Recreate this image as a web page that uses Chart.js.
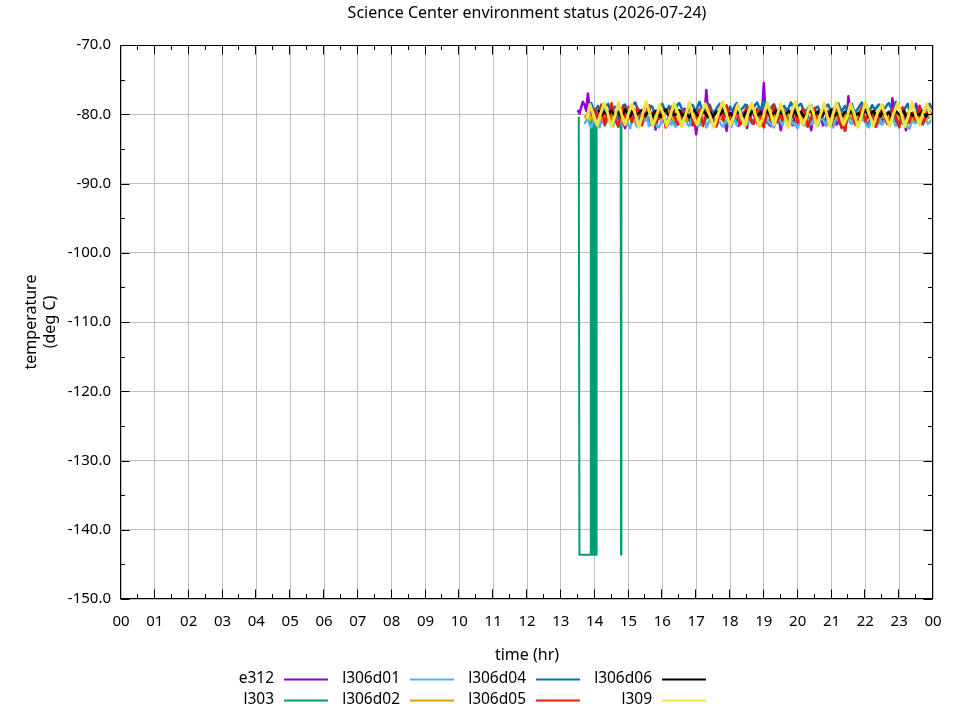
<!DOCTYPE html>
<html>
<head>
<meta charset="utf-8">
<title>Science Center environment status</title>
<script src="https://cdn.jsdelivr.net/npm/chart.js@4.4.1/dist/chart.umd.min.js"></script>
<style>
  body { margin: 0; background: #fff; }
  canvas { display: block; }
</style>
</head>
<body>
<canvas id="myChart" width="960" height="720"></canvas>
<script>
// sample times (hr) shared by most sensors, one row per hour
const hours = [
  13.5,13.55,13.6,13.65,13.7,13.75,13.8,13.85,13.9,13.95,14.0,14.05,14.1,14.15,14.2,14.25,14.3,14.35,14.4,14.45,
  14.5,14.55,14.6,14.65,14.7,14.75,14.8,14.85,14.9,14.95,15.0,15.05,15.1,15.15,15.2,15.25,15.3,15.35,15.4,15.45,
  15.5,15.55,15.6,15.65,15.7,15.75,15.8,15.85,15.9,15.95,16.0,16.05,16.1,16.15,16.2,16.25,16.3,16.35,16.4,16.45,
  16.5,16.55,16.6,16.65,16.7,16.75,16.8,16.85,16.9,16.95,17.0,17.05,17.1,17.15,17.2,17.25,17.3,17.35,17.4,17.45,
  17.5,17.55,17.6,17.65,17.7,17.75,17.8,17.85,17.9,17.95,18.0,18.05,18.1,18.15,18.2,18.25,18.3,18.35,18.4,18.45,
  18.5,18.55,18.6,18.65,18.7,18.75,18.8,18.85,18.9,18.95,19.0,19.05,19.1,19.15,19.2,19.25,19.3,19.35,19.4,19.45,
  19.5,19.55,19.6,19.65,19.7,19.75,19.8,19.85,19.9,19.95,20.0,20.05,20.1,20.15,20.2,20.25,20.3,20.35,20.4,20.45,
  20.5,20.55,20.6,20.65,20.7,20.75,20.8,20.85,20.9,20.95,21.0,21.05,21.1,21.15,21.2,21.25,21.3,21.35,21.4,21.45,
  21.5,21.55,21.6,21.65,21.7,21.75,21.8,21.85,21.9,21.95,22.0,22.05,22.1,22.15,22.2,22.25,22.3,22.35,22.4,22.45,
  22.5,22.55,22.6,22.65,22.7,22.75,22.8,22.85,22.9,22.95,23.0,23.05,23.1,23.15,23.2,23.25,23.3,23.35,23.4,23.45,
  23.5,23.55,23.6,23.65,23.7,23.75,23.8,23.85,23.9,23.95,24.0
];

const e312 = [
  -79.4,-79.9,-79.0,-78.2,-78.6,-79.5,-77.0,-79.1,-79.8,-80.9,-80.6,-79.7,-79.9,-80.8,-81.2,-80.2,-80.4,-79.5,-79.6,-81.0,
  -80.8,-80.1,-79.7,-80.6,-81.1,-79.9,-80.2,-81.3,-82.0,-80.7,-80.5,-79.4,-79.6,-80.5,-80.9,-81.6,-81.4,-80.3,-80.1,-79.6,
  -79.8,-80.9,-80.7,-81.5,-81.3,-80.6,-82.2,-80.8,-80.4,-79.7,-79.5,-80.4,-80.8,-81.7,-81.0,-80.2,-79.9,-80.8,-80.6,-81.3,
  -81.2,-80.4,-80.0,-79.2,-79.4,-80.5,-80.9,-81.4,-81.6,-80.7,-82.9,-81.0,-80.3,-79.6,-79.2,-79.9,-76.5,-79.5,-80.4,-81.1,
  -80.7,-81.2,-81.5,-80.4,-79.8,-80.6,-80.2,-81.3,-82.4,-80.8,-80.9,-79.9,-79.6,-80.5,-81.1,-81.7,-80.3,-80.0,-79.7,-80.9,
  -82.0,-80.9,-80.6,-79.8,-79.9,-80.7,-81.3,-80.4,-80.5,-79.6,-75.5,-79.9,-80.8,-81.4,-81.7,-80.6,-80.1,-79.5,-79.4,-80.8,
  -82.3,-81.0,-80.4,-79.6,-79.7,-80.8,-81.0,-81.6,-80.6,-79.9,-79.3,-80.3,-80.9,-81.2,-81.5,-80.5,-80.2,-81.1,-82.3,-80.7,
  -80.5,-80.0,-79.6,-80.9,-80.8,-81.6,-81.4,-80.3,-80.0,-79.4,-79.5,-80.6,-80.7,-81.5,-81.2,-80.1,-79.9,-80.8,-82.4,-80.6,
  -77.4,-79.8,-80.6,-81.1,-81.3,-80.2,-80.1,-79.5,-79.4,-80.7,-80.8,-81.5,-81.6,-80.4,-80.3,-79.7,-79.8,-80.6,-80.9,-81.3,
  -81.2,-80.5,-80.4,-79.8,-79.6,-80.3,-77.7,-79.7,-80.9,-81.4,-81.5,-80.6,-80.2,-81.0,-82.3,-80.9,-80.6,-79.9,-79.8,-80.7,
  -78.5,-79.9,-80.7,-81.4,-81.3,-80.5,-80.0,-79.6,-79.5,-80.4,-80.6
];

// l303 has its own times because of the drop-outs
const l303DipHours = [
  13.53,13.55,13.88,13.885,13.9,13.92,13.925,13.94,13.96,13.965,
  13.98,14.0,14.005,14.02,14.04,14.045,14.06,14.065,14.1,14.2,
  14.3,14.4,14.5,14.6,14.7,14.77,14.78,14.79
];
const l303DipValues = [
  -80.4,-143.6,-143.6,-80.6,-143.6,-143.6,-80.3,-143.6,-143.6,-80.5,
  -143.6,-143.6,-80.2,-143.6,-143.6,-80.7,-143.6,-80.4,-80.6,-81.0,
  -80.4,-80.8,-81.2,-80.5,-80.9,-80.6,-143.6,-80.4
];
// every 0.1 hr from 14.9 on
const l303TailValues = [
  -81.1,-80.7,-80.3,-81.0,-80.6,-81.3,-80.8,-80.4,-81.1,-80.7,-80.2,
  -80.9,-81.2,-80.5,-80.8,-81.4,-80.6,-80.3,-81.0,-80.7,-81.2,
  -80.4,-80.9,-81.3,-80.6,-80.2,-80.8,-81.1,-80.5,-80.9,-81.4,
  -80.7,-80.3,-81.0,-80.6,-81.2,-80.8,-80.4,-81.1,-80.7,-80.2,
  -80.9,-81.3,-80.5,-80.8,-81.2,-80.6,-80.3,-81.0,-80.7,-81.4,
  -80.5,-80.9,-81.1,-80.4,-80.8,-81.2,-80.6,-80.2,-80.9,-81.3,
  -80.7,-80.4,-81.0,-80.6,-81.2,-80.8,-80.3,-81.1,-80.7,-80.5,
  -81.0,-81.3,-80.6,-80.9,-81.2,-80.4,-80.8,-81.1,-80.7,-80.3,
  -80.9,-81.4,-80.6,-80.8,-81.1,-80.5,-80.9,-81.2,-80.7,-80.4,-80.8
];

const l306d01 = [
  null,null,null,null,-81.4,-80.9,-80.6,-81.5,-81.9,-81.1,-80.8,-80.2,-81.5,-81.9,-80.3,-80.9,-81.7,-81.2,-80.9,-80.4,
  -81.2,-81.7,-80.5,-80.9,-81.8,-81.3,-81.0,-80.5,-80.4,-81.2,-81.6,-82.0,-80.8,-80.3,-81.3,-81.8,-80.2,-80.8,-81.5,-81.0,
  -80.9,-80.4,-81.7,-81.2,-80.6,-81.0,-81.2,-81.8,-81.9,-81.3,-80.7,-80.3,-81.4,-80.9,-80.5,-81.5,-81.1,-81.6,-81.8,-80.8,
  -80.6,-81.1,-81.3,-80.7,-80.9,-81.5,-81.7,-81.0,-80.4,-80.8,-81.0,-81.7,-81.6,-81.1,-80.8,-80.3,-81.9,-81.4,-80.7,-81.2,
  -81.4,-80.9,-80.6,-81.3,-81.1,-81.6,-81.8,-81.2,-80.9,-80.4,-81.3,-81.8,-80.5,-81.0,-81.6,-81.1,-81.0,-80.6,-80.7,-81.4,
  -81.5,-81.0,-80.8,-81.4,-81.2,-80.7,-80.4,-81.1,-81.7,-81.3,-81.0,-80.5,-80.6,-81.2,-81.4,-81.8,-81.9,-81.2,-80.9,-80.5,
  -81.1,-81.6,-80.5,-80.9,-81.6,-81.1,-80.8,-81.4,-81.3,-81.7,-82.0,-81.2,-80.7,-80.4,-81.2,-81.7,-80.6,-81.0,-81.5,-80.9,
  -80.9,-81.3,-81.7,-81.0,-80.4,-80.8,-81.2,-81.7,-80.8,-80.5,-81.5,-81.9,-81.0,-80.6,-80.6,-81.2,-81.8,-81.3,-81.1,-80.7,
  -80.7,-81.2,-81.4,-80.8,-80.9,-81.5,-81.6,-81.0,-80.5,-80.9,-81.2,-81.7,-81.9,-81.3,-80.8,-80.4,-81.3,-81.8,-80.6,-81.1,
  -81.5,-81.0,-80.9,-81.4,-81.2,-80.7,-80.5,-81.1,-81.7,-81.3,-81.0,-80.6,-80.7,-81.2,-81.4,-81.9,-82.1,-81.4,-80.8,-81.2,
  -81.3,-80.8,-80.6,-81.2,-81.5,-81.0,-80.9,-81.4,-81.2,-80.7,-80.8
];

const l306d02 = [
  null,null,null,null,-80.2,-80.6,-79.6,-80.0,-80.8,-80.3,-80.1,-79.7,-79.4,-80.2,-80.7,-80.9,-80.3,-79.8,-79.9,-80.5,
  -80.6,-80.2,-80.0,-79.6,-79.5,-80.3,-80.9,-80.5,-80.2,-79.8,-79.7,-80.4,-80.5,-80.8,-81.0,-80.4,-80.1,-79.6,-79.8,-80.3,
  -80.4,-79.9,-79.6,-80.1,-80.8,-80.5,-80.2,-79.7,-79.9,-80.4,-80.7,-80.2,-80.0,-79.6,-79.5,-80.2,-80.6,-80.9,-80.3,-79.8,
  -79.8,-80.2,-80.5,-80.8,-80.9,-80.4,-80.1,-79.7,-79.6,-80.0,-80.4,-80.7,-80.8,-80.3,-79.9,-79.5,-80.2,-80.6,-80.6,-80.1,
  -80.0,-79.7,-79.5,-80.1,-80.7,-80.4,-80.3,-79.9,-79.8,-80.5,-80.9,-80.3,-80.2,-79.8,-79.7,-80.2,-80.5,-80.8,-80.1,-79.6,
  -80.8,-80.4,-80.2,-79.8,-79.6,-80.1,-80.4,-80.7,-80.9,-80.5,-80.0,-79.6,-79.7,-80.3,-80.6,-80.9,-80.3,-80.0,-79.9,-80.4,
  -80.5,-80.8,-80.1,-79.7,-79.8,-80.3,-80.7,-80.4,-80.2,-79.8,-79.6,-80.1,-80.4,-80.7,-80.9,-80.3,-80.0,-79.6,-79.7,-80.2,
  -80.3,-80.6,-80.8,-80.2,-80.1,-79.8,-79.5,-80.0,-80.6,-80.9,-80.2,-79.7,-79.9,-80.4,-80.7,-80.3,-80.4,-80.8,-80.0,-79.6,
  -79.7,-80.1,-80.5,-80.8,-80.9,-80.4,-80.2,-79.9,-79.8,-80.3,-80.4,-80.7,-80.0,-79.6,-79.6,-80.2,-80.8,-80.5,-80.3,-79.9,
  -80.1,-80.5,-79.8,-80.2,-80.6,-80.9,-80.3,-79.9,-79.5,-80.1,-80.7,-80.4,-80.2,-79.7,-79.9,-80.3,-80.5,-80.8,-80.8,-80.2,
  -80.0,-80.4,-79.6,-80.0,-80.4,-80.8,-80.7,-80.2,-80.1,-79.7,-79.8
];

const l306d04 = [
  null,null,null,null,null,null,-79.0,-78.6,-78.4,-79.1,-79.6,-79.2,-78.8,-79.5,-80.2,-79.4,-79.1,-78.7,-78.5,-79.3,
  -79.7,-79.1,-78.9,-79.6,-80.3,-79.5,-79.2,-78.7,-78.6,-79.3,-79.8,-79.2,-79.0,-78.5,-78.3,-79.0,-79.5,-79.9,-80.1,-79.3,
  -78.7,-79.2,-79.4,-78.8,-78.9,-79.6,-80.0,-79.4,-79.3,-78.9,-78.5,-79.1,-79.7,-79.3,-78.8,-79.4,-79.9,-79.5,-79.2,-78.6,
  -78.4,-78.9,-79.6,-79.9,-80.2,-79.5,-79.0,-78.6,-78.7,-79.2,-79.5,-78.8,-78.2,-79.0,-79.8,-79.4,-79.1,-78.7,-78.6,-79.3,
  -79.9,-79.5,-79.2,-78.8,-78.5,-79.1,-79.7,-80.0,-80.4,-79.6,-78.9,-79.4,-79.3,-78.7,-78.4,-79.0,-79.6,-79.2,-79.0,-78.6,
  -78.7,-79.3,-79.8,-79.4,-79.1,-78.6,-78.3,-78.9,-79.5,-78.7,-78.1,-79.0,-79.9,-79.5,-79.2,-78.8,-78.6,-79.2,-79.7,-79.3,
  -80.1,-79.4,-78.8,-79.2,-79.4,-78.9,-78.3,-78.8,-79.6,-79.9,-79.0,-78.6,-78.5,-79.1,-79.8,-79.4,-79.2,-78.8,-78.7,-79.5,
  -79.5,-79.0,-78.9,-79.6,-80.2,-79.7,-79.3,-78.8,-78.6,-79.2,-79.7,-79.3,-79.0,-78.5,-78.4,-79.1,-79.6,-79.2,-78.8,-79.4,
  -79.2,-78.8,-78.5,-79.3,-79.8,-79.4,-79.1,-78.6,-78.3,-78.9,-79.4,-79.8,-80.0,-79.2,-78.7,-79.1,-79.3,-78.9,-78.6,-79.2,
  -79.7,-79.3,-79.0,-78.6,-78.4,-79.0,-79.6,-79.2,-78.2,-78.8,-79.1,-79.6,-79.8,-79.3,-78.9,-78.5,-79.4,-79.0,-78.6,-79.1,
  -79.5,-79.1,-78.8,-79.4,-79.9,-79.5,-79.2,-78.7,-78.5,-79.0,-79.3
];

const l306d05 = [
  null,null,null,null,null,null,null,null,null,null,-79.2,-80.1,-80.8,-79.4,-78.6,-80.3,-81.5,-80.6,-79.9,-81.0,
  -78.4,-79.6,-80.6,-81.3,-81.8,-80.5,-79.5,-78.8,-80.2,-81.1,-78.9,-79.8,-81.2,-80.4,-80.0,-79.1,-79.3,-80.7,-81.6,-80.2,
  -80.4,-79.5,-78.7,-79.9,-79.8,-81.0,-81.3,-80.2,-80.7,-79.3,-79.1,-80.6,-81.9,-81.2,-80.3,-79.4,-78.8,-80.1,-80.9,-81.5,
  -81.4,-80.5,-79.6,-80.8,-80.2,-79.2,-78.5,-79.7,-81.1,-81.6,-80.6,-79.8,-79.3,-80.4,-81.7,-80.9,-80.0,-79.4,-78.9,-80.3,
  -80.5,-81.2,-81.8,-80.6,-79.4,-78.9,-80.9,-80.0,-78.7,-79.8,-81.2,-80.7,-80.1,-79.3,-79.7,-80.8,-81.5,-81.0,-80.3,-79.5,
  -78.9,-79.8,-80.7,-81.2,-81.4,-80.3,-79.2,-79.9,-80.4,-81.3,-81.9,-80.6,-79.6,-79.0,-80.8,-80.1,-78.6,-79.7,-81.1,-80.4,
  -80.2,-80.9,-79.5,-80.4,-81.7,-81.0,-80.6,-79.3,-78.8,-80.0,-81.3,-80.5,-80.0,-79.2,-79.4,-80.7,-81.8,-81.1,-80.5,-79.6,
  -79.1,-80.3,-81.2,-80.6,-80.3,-79.4,-78.6,-79.7,-80.9,-81.4,-81.6,-80.5,-79.7,-79.1,-80.4,-81.3,-82.0,-81.1,-82.4,-80.8,
  -80.1,-79.6,-79.3,-80.5,-81.5,-81.0,-80.7,-79.8,-78.9,-79.9,-81.0,-80.4,-80.2,-79.5,-79.6,-80.8,-81.8,-81.2,-80.4,-79.7,
  -78.7,-79.6,-80.8,-81.4,-81.3,-80.2,-79.4,-79.0,-80.5,-81.1,-81.9,-80.7,-79.0,-79.8,-80.6,-81.2,-81.2,-80.3,-79.8,-80.6,
  -80.9,-79.9,-78.8,-80.2,-81.4,-80.8,-80.3,-79.5,-79.6,-80.5,-81.1
];

const l306d06 = [
  null,null,null,null,null,null,null,null,null,null,null,null,-79.4,-79.8,-80.1,-79.9,-79.6,-80.0,-80.3,-79.7,
  -79.5,-79.9,-80.2,-79.8,-79.7,-80.1,-80.4,-79.9,-79.3,-79.7,-80.0,-80.3,-79.6,-79.9,-80.3,-80.0,-79.8,-79.5,-79.4,-79.8,
  -80.2,-79.9,-79.7,-80.1,-80.4,-79.8,-79.5,-79.8,-80.1,-80.4,-79.8,-79.5,-79.3,-79.9,-80.3,-79.9,-79.6,-80.1,-80.0,-79.7,
  -79.4,-79.8,-80.2,-80.0,-79.7,-80.1,-80.5,-80.0,-79.6,-79.4,-79.9,-80.2,-80.3,-79.8,-79.5,-79.7,-80.1,-80.4,-79.7,-79.9,
  -80.4,-80.0,-79.6,-79.9,-80.0,-79.7,-79.3,-79.8,-80.2,-80.4,-79.8,-80.1,-80.5,-79.9,-79.5,-79.8,-79.9,-80.2,-80.3,-79.8,
  -79.6,-79.9,-80.1,-79.7,-79.4,-79.8,-80.3,-80.0,-79.7,-80.1,-80.0,-79.6,-79.5,-79.9,-80.4,-80.1,-79.8,-79.5,-80.2,-79.9,
  -79.5,-79.9,-80.3,-80.0,-79.7,-79.5,-80.0,-80.3,-79.4,-79.8,-80.2,-79.9,-79.6,-80.1,-80.5,-80.0,-79.8,-79.6,-79.5,-80.0,
  -80.1,-79.8,-79.6,-80.0,-80.4,-80.1,-79.7,-79.5,-80.0,-80.3,-79.3,-79.7,-80.2,-79.9,-79.8,-80.2,-80.5,-80.0,-79.6,-79.9,
  -80.0,-79.7,-79.5,-79.9,-80.3,-80.0,-79.8,-80.2,-80.1,-79.7,-79.4,-79.8,-80.4,-80.1,-79.7,-79.5,-80.2,-80.0,-79.9,-80.3,
  -79.6,-80.0,-80.3,-79.9,-79.8,-80.2,-80.5,-80.0,-79.5,-79.8,-80.0,-80.3,-79.7,-79.5,-80.4,-80.0,-79.6,-79.9,-80.2,-79.8,
  -79.8,-80.1,-80.1,-79.7,-79.5,-79.9,-80.3,-80.0,-79.7,-80.2,-80.0
];

// l309 swings slowly, read at its turning points
const l309Hours = [
  13.78,13.86,13.97,14.07,14.17,14.28,14.38,14.49,14.60,14.70,
  14.80,14.90,15.00,15.10,15.21,15.31,15.42,15.52,15.62,15.72,
  15.82,15.92,16.03,16.13,16.24,16.35,16.46,16.57,16.68,16.80,
  16.91,17.03,17.15,17.27,17.40,17.52,17.65,17.78,17.89,18.00,
  18.12,18.23,18.33,18.44,18.54,18.64,18.75,18.87,18.98,19.10,
  19.20,19.30,19.40,19.50,19.61,19.72,19.82,19.93,20.04,20.15,
  20.26,20.37,20.47,20.57,20.67,20.78,20.87,20.96,21.06,21.15,
  21.25,21.36,21.46,21.56,21.67,21.78,21.89,22.00,22.12,22.24,
  22.36,22.48,22.60,22.72,22.83,22.95,23.06,23.17,23.27,23.38,
  23.49,23.60,23.71,23.82,23.91,24.00
];
const l309 = [
  -80.7,-78.6,-80.2,-81.6,-80.0,-78.4,-79.8,-81.8,-80.3,-78.3,
  -80.1,-81.5,-79.9,-78.5,-80.2,-81.9,-80.0,-78.2,-79.7,-81.6,
  -80.4,-78.6,-80.0,-81.7,-80.1,-78.4,-79.8,-81.8,-80.2,-78.3,
  -80.3,-81.5,-79.8,-78.5,-80.1,-81.9,-80.0,-78.2,-79.9,-81.6,
  -80.3,-78.6,-80.2,-81.7,-79.7,-78.4,-80.0,-81.8,-80.4,-78.3,
  -79.9,-81.5,-80.1,-78.5,-80.2,-81.9,-79.8,-78.2,-80.0,-81.6,
  -80.3,-78.6,-79.9,-81.7,-80.1,-78.4,-80.2,-81.8,-79.7,-78.3,
  -80.0,-81.5,-80.4,-78.5,-79.9,-81.9,-80.2,-78.2,-80.1,-81.6,
  -79.8,-78.6,-80.3,-81.7,-80.0,-78.4,-79.9,-81.8,-80.2,-78.3,
  -80.1,-81.5,-79.8,-78.5,-80.0,-81.2
];

const seriesNames = ['e312','l303','l306d01','l306d02','l306d04','l306d05','l306d06','l309'];
const seriesColors = ['#9400d3','#009e73','#56b4e9','#e69f00','#0072b2','#e51e10','#000000','#f0e442'];

const hourLabels = ['00','01','02','03','04','05','06','07','08','09','10','11',
  '12','13','14','15','16','17','18','19','20','21','22','23','00'];
const tempTicks = [-150,-140,-130,-120,-110,-100,-90,-80,-70];

// l303 tail uses every other sample time from 14.9 hr
const l303Hours = l303DipHours.concat(hours.filter(function (h, i) { return i % 2 === 0 && h > 14.85; }));
const l303 = l303DipValues.concat(l303TailValues);

function points(xs, ys) {
  return xs.map(function (x, i) { return { x: x, y: ys[i] }; });
}

const seriesPoints = [
  points(hours, e312),
  points(l303Hours, l303),
  points(hours, l306d01),
  points(hours, l306d02),
  points(hours, l306d04),
  points(hours, l306d05),
  points(hours, l306d06),
  points(l309Hours, l309)
];

const FONT = "'Noto Sans', sans-serif";

// gnuplot style frame, inward ticks, titles and key
const decorations = {
  id: 'decorations',
  afterDraw(chart) {
    const ctx = chart.ctx;
    const a = chart.chartArea;
    const xs = chart.scales.x;
    const ys = chart.scales.y;
    const L = Math.round(a.left) - 0.5, R = Math.round(a.right) - 0.5;
    const T = Math.round(a.top) + 0.5, B = Math.round(a.bottom) - 0.5;
    ctx.save();
    ctx.strokeStyle = '#000';
    ctx.lineWidth = 1;
    ctx.beginPath();
    for (let h = 0; h < hourLabels.length; h++) {
      const px = Math.round(xs.getPixelForValue(h)) - 0.5;
      ctx.moveTo(px, B); ctx.lineTo(px, B - 9);
      ctx.moveTo(px, T); ctx.lineTo(px, T + 9);
      if (h < hourLabels.length - 1) {
        const mx = Math.round(xs.getPixelForValue(h + 0.5)) - 0.5;
        ctx.moveTo(mx, B); ctx.lineTo(mx, B - 4.5);
        ctx.moveTo(mx, T); ctx.lineTo(mx, T + 4.5);
      }
    }
    tempTicks.forEach(function (v, i) {
      const py = Math.round(ys.getPixelForValue(v)) + 0.5;
      ctx.moveTo(L, py); ctx.lineTo(L + 9, py);
      ctx.moveTo(R, py); ctx.lineTo(R - 9, py);
      if (i < tempTicks.length - 1) {
        const my = Math.round(ys.getPixelForValue(v + 5)) + 0.5;
        ctx.moveTo(L, my); ctx.lineTo(L + 4.5, my);
        ctx.moveTo(R, my); ctx.lineTo(R - 4.5, my);
      }
    });
    ctx.stroke();
    ctx.strokeRect(L, T, R - L, B - T);

    ctx.fillStyle = '#000';
    ctx.font = '16px ' + FONT;
    ctx.textAlign = 'center';
    ctx.textBaseline = 'middle';
    const cx = (a.left + a.right) / 2;
    ctx.fillText('Science Center environment status (2026-07-24)', cx, 13);
    ctx.fillText('time (hr)', cx, 655);

    ctx.save();
    ctx.translate(0, (a.top + a.bottom) / 2);
    ctx.rotate(-Math.PI / 2);
    ctx.fillText('temperature', 0, 31);
    ctx.fillText('(deg C)', 0, 50);
    ctx.restore();

    // key: label, then a line sample, column by column
    ctx.font = '15.5px ' + FONT;
    ctx.textAlign = 'right';
    ctx.lineWidth = 2;
    seriesNames.forEach(function (name, i) {
      const col = Math.floor(i / 2), row = i % 2;
      const sx = 284 + col * 126;
      const sy = 679 + row * 21;
      ctx.fillStyle = '#000';
      ctx.fillText(name, sx - 10, sy);
      ctx.strokeStyle = seriesColors[i];
      ctx.beginPath();
      ctx.moveTo(sx, sy + 0.5);
      ctx.lineTo(sx + 44, sy + 0.5);
      ctx.stroke();
    });
    ctx.restore();
  }
};

const datasets = seriesNames.map(function (name, i) {
  return {
    label: name,
    data: seriesPoints[i],
    borderColor: seriesColors[i],
    backgroundColor: seriesColors[i],
    borderWidth: name === 'l309' ? 3 : (name === 'l303' ? 2 : 2.5),
    borderJoinStyle: 'round',
    pointRadius: 0,
    tension: 0,
    order: seriesNames.length - i   // later series drawn on top
  };
});

Chart.defaults.font.family = FONT;
Chart.defaults.font.size = 15;
Chart.defaults.color = '#000';

var ctx = document.getElementById('myChart').getContext('2d');
var myChart = new Chart(ctx, {
  type: 'line',
  data: { datasets: datasets },
  options: {
    responsive: false,
    animation: false,
    devicePixelRatio: 1,
    layout: { padding: { left: 0, right: 27, top: 45, bottom: 0 } },
    plugins: {
      legend: { display: false },
      title: { display: false },
      tooltip: { enabled: false }
    },
    scales: {
      x: {
        type: 'linear',
        min: 0,
        max: 24,
        afterFit: function (scale) { scale.height = 121; },
        ticks: {
          stepSize: 1,
          autoSkip: false,
          maxRotation: 0,
          padding: 14,
          callback: function (v) { return hourLabels[Math.round(v)]; }
        },
        grid: { color: '#bebebe', drawTicks: false },
        border: { display: false }
      },
      y: {
        min: -150,
        max: -70,
        afterFit: function (scale) { scale.width = 121; },
        ticks: {
          stepSize: 10,
          padding: 10,
          callback: function (v) { return v.toFixed(1); }
        },
        grid: { color: '#bebebe', drawTicks: false },
        border: { display: false }
      }
    }
  },
  plugins: [decorations]
});
</script>
</body>
</html>
